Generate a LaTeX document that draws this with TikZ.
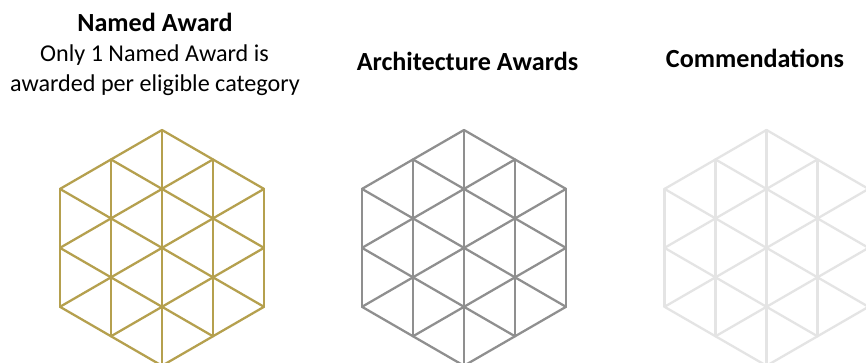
\documentclass[tikz,border=0pt]{standalone}
\usepackage{fontspec}
\setmainfont{Carlito}
\definecolor{goldline}{HTML}{B5A04E}
\definecolor{greyline}{HTML}{8F8F8F}
\definecolor{paleline}{HTML}{E4E4E4}
\tikzset{
  hexline/.style={line width=1.7pt,line cap=round,line join=round},
  title/.style={font=\fontsize{19.6pt}{22pt}\selectfont\bfseries,anchor=base,inner sep=0pt},
  sub/.style={font=\fontsize{18.1pt}{22pt}\selectfont,anchor=base,inner sep=0pt},
  pics/hexgrid/.style={code={
    \tikzset{x=38.25pt,y=-22.1pt}
    \foreach \a/\b/\c/\d in {0/0/0/8,-1/1/-1/7,1/1/1/7,-2/2/-2/6,2/2/2/6,
      0/0/2/2,-1/1/2/4,-2/2/2/6,-2/4/1/7,-2/6/0/8,
      0/0/-2/2,1/1/-2/4,2/2/-2/6,2/4/-1/7,2/6/0/8}
      {\draw[hexline,#1] (\a,\b) -- (\c,\d);}
  }}
}
\begin{document}
\begin{tikzpicture}[x=0.75pt,y=-0.75pt]
\useasboundingbox (0,0) rectangle (866,363);
\clip (0,0) rectangle (866,363);
\fill[white] (0,0) rectangle (866,363);
\pic at (162,130) {hexgrid=goldline};
\pic at (464,130) {hexgrid=greyline};
\pic at (766.5,130) {hexgrid=paleline};
\node[title] (t1) at (155,32) {Named Award};
\node[sub] (s1) at (154.5,62) {Only 1 Named Award is};
\node[sub] (s2) at (155,92) {awarded per eligible category};
\node[title] (t2) at (467.5,70.5) {Architecture Awards};
\node[title] (t3) at (755,68) {Commendations};
\end{tikzpicture}
\end{document}
